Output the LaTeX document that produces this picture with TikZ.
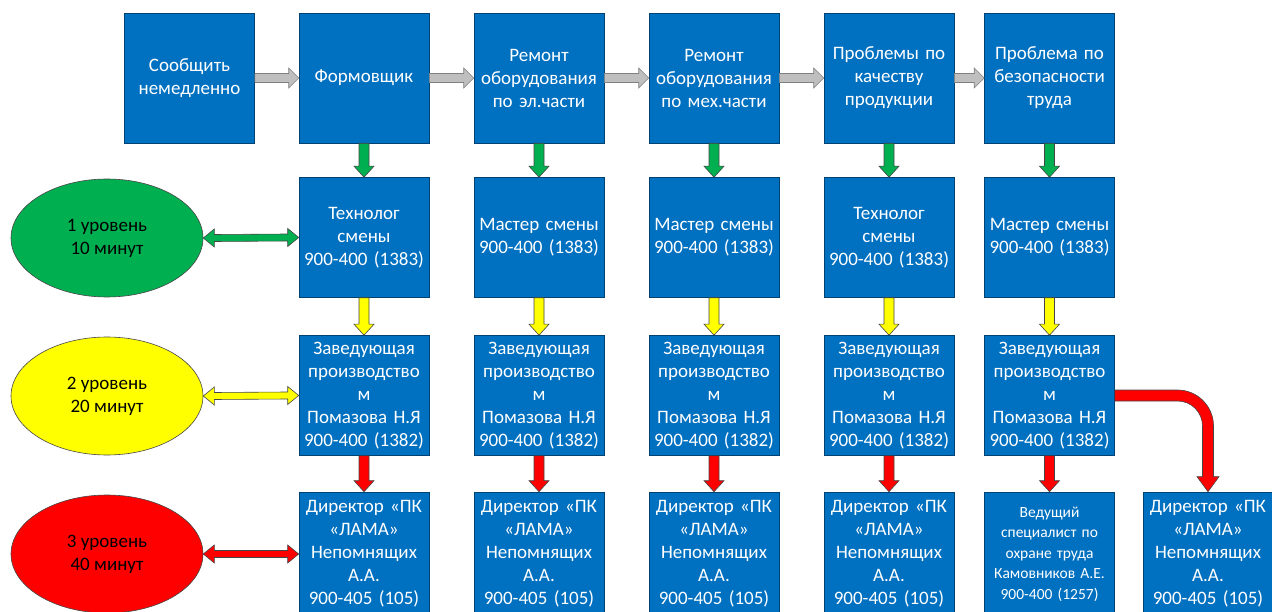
\documentclass[tikz,border=0pt]{standalone}
\usepackage{fontspec}
\setmainfont{Carlito}
\usepackage{tikz}
\usetikzlibrary{shapes.geometric, calc}
\definecolor{bleu}{RGB}{0,112,192}
\definecolor{vert}{RGB}{0,176,80}
\definecolor{jaune}{RGB}{255,255,0}
\definecolor{rouge}{RGB}{255,0,0}
\definecolor{gris}{RGB}{191,191,191}
\definecolor{bord}{RGB}{70,70,70}

% Flèche verticale épaisse : #1 -> #2, couleur #3
\newcommand{\flecheV}[3]{%
  \filldraw[fleche, fill=#3] ($(#1.south)+(-5,0)$) -- ($(#2.north)+(-5,-11)$)
    -- ($(#2.north)+(-10,-11)$) -- (#2.north) -- ($(#2.north)+(10,-11)$)
    -- ($(#2.north)+(5,-11)$) -- ($(#1.south)+(5,0)$) -- cycle;}
% Flèche horizontale grise : #1 -> #2
\newcommand{\flecheH}[2]{%
  \filldraw[fleche, fill=gris, draw=gray] ($(#1.east)+(0,-4.5)$) -- ($(#2.west)+(-10,-4.5)$)
    -- ($(#2.west)+(-10,-10)$) -- (#2.west) -- ($(#2.west)+(-10,10)$)
    -- ($(#2.west)+(-10,4.5)$) -- ($(#1.east)+(0,4.5)$) -- cycle;}
% Flèche double : #1 <-> #2, couleur #3
\newcommand{\flecheD}[3]{%
  \filldraw[fleche, fill=#3] (#1.east) -- ($(#1.east)+(11,-9)$) -- ($(#1.east)+(11,-3.5)$)
    -- ($(#2.west)+(-11,-3.5)$) -- ($(#2.west)+(-11,-9)$) -- (#2.west)
    -- ($(#2.west)+(-11,9)$) -- ($(#2.west)+(-11,3.5)$) -- ($(#1.east)+(11,3.5)$)
    -- ($(#1.east)+(11,9)$) -- cycle;}

\begin{document}
\begin{tikzpicture}[x=1pt, y=-1pt,
    boite/.style={rectangle, fill=bleu, draw=bleu!60!black, line width=0.6pt, text=white,
      text width=126pt, align=center, minimum width=130pt, minimum height=120pt,
      inner sep=2pt, font=\fontsize{19}{23}\selectfont},
    niveau/.style={ellipse, draw=bord, line width=0.6pt, minimum width=192pt,
      minimum height=118pt, inner sep=0pt, align=center, font=\fontsize{19}{23}\selectfont},
    fleche/.style={draw=bord, line width=0.6pt}]
    \useasboundingbox (0,0) rectangle (1272,612);

    % Ligne du haut
    \node[boite, minimum height=130pt] (P0) at (189.5,78) {Сообщить\\немедленно};
    \node[boite, minimum height=130pt] (P1) at (364,78) {Формовщик};
    \node[boite, minimum height=130pt] (P2) at (539,78) {Ремонт\\оборудования\\по эл.части};
    \node[boite, minimum height=130pt] (P3) at (714,78) {Ремонт\\оборудования\\по мех.части};
    \node[boite, minimum height=130pt] (P4) at (889,78) {Проблемы по\\качеству\\продукции};
    \node[boite, minimum height=130pt] (P5) at (1049.5,78) {Проблема по\\безопасности\\труда};

    % Niveaux
    \node[niveau, fill=vert] (E1) at (107,238) {1 уровень\\10 минут};
    \node[niveau, fill=jaune] (E2) at (107,396) {2 уровень\\20 минут};
    \node[niveau, fill=rouge] (E3) at (107,554) {3 уровень\\40 минут};

    % 1 уровень
    \node[boite] (N1) at (364,237.5) {Технолог\\смены\\900-400 (1383)};
    \node[boite] (N2) at (539,237.5) {Мастер смены\\900-400 (1383)};
    \node[boite] (N3) at (714,237.5) {Мастер смены\\900-400 (1383)};
    \node[boite] (N4) at (889,237.5) {Технолог\\смены\\900-400 (1383)};
    \node[boite] (N5) at (1049.5,237.5) {Мастер смены\\900-400 (1383)};

    % 2 уровень
    \node[boite] (Z1) at (364,395.5) {Заведующая\\производство\\м\\Помазова Н.Я\\900-400 (1382)};
    \node[boite] (Z2) at (539,395.5) {Заведующая\\производство\\м\\Помазова Н.Я\\900-400 (1382)};
    \node[boite] (Z3) at (714,395.5) {Заведующая\\производство\\м\\Помазова Н.Я\\900-400 (1382)};
    \node[boite] (Z4) at (889,395.5) {Заведующая\\производство\\м\\Помазова Н.Я\\900-400 (1382)};
    \node[boite] (Z5) at (1049.5,395.5) {Заведующая\\производство\\м\\Помазова Н.Я\\900-400 (1382)};

    % 3 уровень
    \node[boite, minimum height=124pt] (D1) at (364,554) {Директор «ПК\\«ЛАМА»\\Непомнящих\\А.А.\\900-405 (105)};
    \node[boite, minimum height=124pt] (D2) at (539,554) {Директор «ПК\\«ЛАМА»\\Непомнящих\\А.А.\\900-405 (105)};
    \node[boite, minimum height=124pt] (D3) at (714,554) {Директор «ПК\\«ЛАМА»\\Непомнящих\\А.А.\\900-405 (105)};
    \node[boite, minimum height=124pt] (D4) at (889,554) {Директор «ПК\\«ЛАМА»\\Непомнящих\\А.А.\\900-405 (105)};
    \node[boite, minimum height=124pt, font=\fontsize{15.5}{20.5}\selectfont] (D5) at (1049.5,554) {Ведущий\\специалист по\\охране труда\\Камовников А.Е.\\900-400 (1257)};
    \node[boite, minimum height=124pt] (D6) at (1208,554) {Директор «ПК\\«ЛАМА»\\Непомнящих\\А.А.\\900-405 (105)};

    % Flèches grises
    \flecheH{P0}{P1}
    \flecheH{P1}{P2}
    \flecheH{P2}{P3}
    \flecheH{P3}{P4}
    \flecheH{P4}{P5}

    % Flèches vertes, jaunes, rouges
    \flecheV{P1}{N1}{vert}
    \flecheV{P2}{N2}{vert}
    \flecheV{P3}{N3}{vert}
    \flecheV{P4}{N4}{vert}
    \flecheV{P5}{N5}{vert}
    \flecheV{N1}{Z1}{jaune}
    \flecheV{N2}{Z2}{jaune}
    \flecheV{N3}{Z3}{jaune}
    \flecheV{N4}{Z4}{jaune}
    \flecheV{N5}{Z5}{jaune}
    \flecheV{Z1}{D1}{rouge}
    \flecheV{Z2}{D2}{rouge}
    \flecheV{Z3}{D3}{rouge}
    \flecheV{Z4}{D4}{rouge}
    \flecheV{Z5}{D5}{rouge}

    % Flèches doubles vers les niveaux
    \flecheD{E1}{N1}{vert}
    \flecheD{E2}{Z1}{jaune}
    \flecheD{E3}{D1}{rouge}

    % Flèche coudée
    \filldraw[fleche, fill=rouge] let \p1=(Z5.east), \p2=(D6.north) in
      (\x1,{\y1+5.5pt}) -- ({\x2-30.5pt},{\y1+5.5pt})
      .. controls ({\x2-10.6pt},{\y1+5.5pt}) and ({\x2+5.5pt},{\y1-10.6pt}) .. ({\x2+5.5pt},{\y1-30.5pt})
      -- ({\x2+5.5pt},{\y2+15pt}) -- ({\x2+11pt},{\y2+15pt}) -- (\x2,\y2)
      -- ({\x2-11pt},{\y2+15pt}) -- ({\x2-5.5pt},{\y2+15pt}) -- ({\x2-5.5pt},{\y1-30.5pt})
      .. controls ({\x2-5.5pt},{\y1-16.7pt}) and ({\x2-16.7pt},{\y1-5.5pt}) .. ({\x2-30.5pt},{\y1-5.5pt})
      -- (\x1,{\y1-5.5pt}) -- cycle;

\end{tikzpicture}
\end{document}
